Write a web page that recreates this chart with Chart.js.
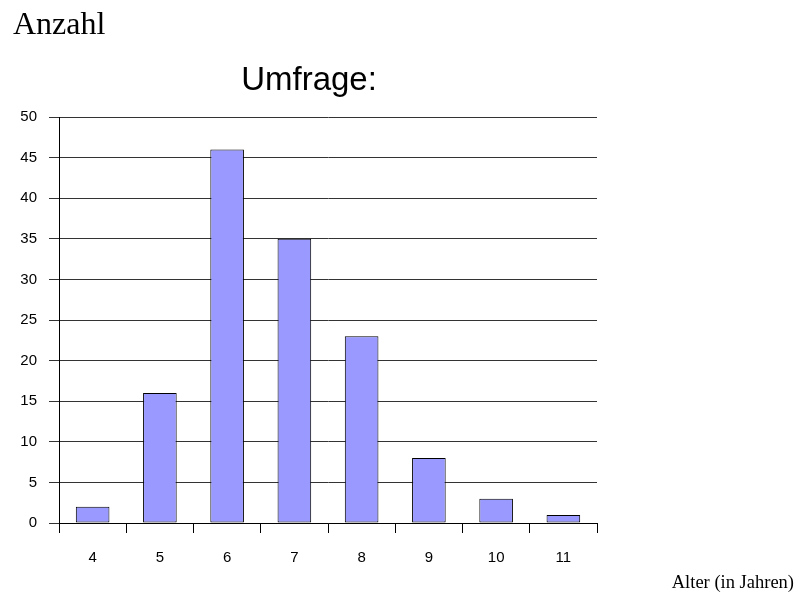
<!DOCTYPE html>
<html lang="de">
<head>
    <meta charset="UTF-8">
    <title>Umfrage</title>
    <style>
        body { margin: 0; padding: 0; background: #fff; }
        #wrap { width: 796px; height: 598px; position: relative; }
    </style>
</head>
<body>
    <div id="wrap"><canvas id="chart" width="796" height="598"></canvas></div>

    <script src="https://cdn.jsdelivr.net/npm/chart.js"></script>
    <script>
        // data
        const ages = ['4', '5', '6', '7', '8', '9', '10', '11'];
        const counts = [2, 16, 46, 35, 23, 8, 3, 1];
        const yTicks = [0, 5, 10, 15, 20, 25, 30, 35, 40, 45, 50];

        // extra texts: title, y caption, x caption
        const textPlugin = {
            id: 'texts',
            afterDraw(chart) {
                const c = chart.ctx;
                c.save();
                c.fillStyle = '#000';
                c.textBaseline = 'alphabetic';
                c.textAlign = 'left';
                c.font = '32px "Liberation Serif", "Times New Roman", serif';
                c.fillText('Anzahl', 13, 34);
                c.textAlign = 'center';
                c.font = '33px "Liberation Sans", Arial, sans-serif';
                c.fillText('Umfrage:', 309, 90);
                c.textAlign = 'right';
                c.font = '18.5px "Liberation Serif", "Times New Roman", serif';
                c.fillText('Alter (in Jahren)', 794, 588);
                c.restore();
            }
        };

        const ctx = document.getElementById('chart').getContext('2d');
        new Chart(ctx, {
            type: 'bar',
            data: {
                labels: ages,
                datasets: [{
                    data: counts,
                    backgroundColor: '#9999FF',
                    borderColor: '#000',
                    borderWidth: 1,
                    borderSkipped: false,
                    barPercentage: 0.5,
                    categoryPercentage: 1.0
                }]
            },
            options: {
                responsive: false,
                animation: false,
                layout: { padding: { left: 0, right: 199, top: 117, bottom: 25 } },
                plugins: { legend: { display: false }, title: { display: false }, tooltip: { enabled: false } },
                scales: {
                    x: {
                        afterFit: s => { s.height = 50; },
                        grid: { offset: true, drawOnChartArea: false, color: '#000', tickLength: 10 },
                        border: { color: '#000', width: 1 },
                        ticks: { color: '#000', font: { family: '"Liberation Sans", Arial', size: 15 }, padding: 16 }
                    },
                    y: {
                        min: 0,
                        max: 50,
                        afterFit: s => { s.width = 59; },
                        afterBuildTicks: s => { s.ticks = yTicks.map(v => ({ value: v })); },
                        grid: { color: '#333', tickLength: 10 },
                        border: { color: '#000', width: 1 },
                        ticks: { color: '#000', font: { family: '"Liberation Sans", Arial', size: 15 }, padding: 12 }
                    }
                }
            },
            plugins: [textPlugin]
        });
    </script>
</body>
</html>
